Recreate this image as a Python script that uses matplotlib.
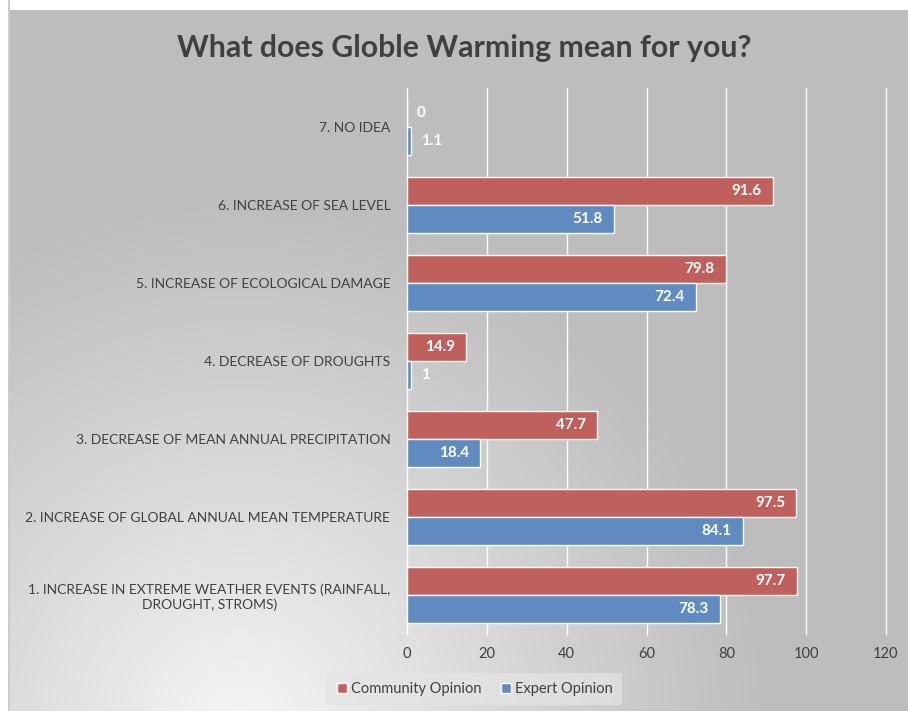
import numpy as np
import matplotlib.pyplot as plt
from matplotlib.lines import Line2D

plt.rcParams['font.family'] = ['Lato', 'DejaVu Sans']

categories = [
    '1. INCREASE IN EXTREME WEATHER EVENTS (RAINFALL,\nDROUGHT, STROMS)',
    '2. INCREASE OF GLOBAL ANNUAL MEAN TEMPERATURE',
    '3. DECREASE OF MEAN ANNUAL PRECIPITATION',
    '4. DECREASE OF DROUGHTS',
    '5. INCREASE OF ECOLOGICAL DAMAGE',
    '6. INCREASE OF SEA LEVEL',
    '7. NO IDEA',
]
community = [97.7, 97.5, 47.7, 14.9, 79.8, 91.6, 0]
expert = [78.3, 84.1, 18.4, 1, 72.4, 51.8, 1.1]
xticks = [0, 20, 40, 60, 80, 100, 120]

RED = '#C0605C'
BLUE = '#5F8BC0'
TXT = '#404040'

fig = plt.figure(figsize=(9.08, 7.11), dpi=100)

# background with radial highlight at lower left
bg = fig.add_axes([0, 0, 1, 1], zorder=-10)
bg.set_axis_off()
W, H = 908, 711
xx, yy = np.meshgrid(np.arange(W), np.arange(H))
r = np.hypot(xx - 240, yy - 730)
t = np.clip(r / 520.0, 0, 1) ** 0.9
light = np.array([0.97, 0.97, 0.97])
gray = np.array([0.745, 0.745, 0.745])
img = light[None, None, :] * (1 - t[..., None]) + gray[None, None, :] * t[..., None]
img[:10, :, :] = 1.0
img[:, :8, :] = 1.0
img[:, 8:10, :] = 0.8
bg.imshow(img, extent=[0, W, H, 0], aspect='auto')
bg.set_xlim(0, W)
bg.set_ylim(H, 0)

ax = fig.add_axes([407 / W, 1 - 634 / H, (886 - 407) / W, (634 - 88) / H])
ax.patch.set_alpha(0)

y = np.arange(len(categories))
h = 0.36
ax.barh(y + h / 2, community, height=h, color=RED, edgecolor='white', linewidth=1, zorder=3)
ax.barh(y - h / 2, expert, height=h, color=BLUE, edgecolor='white', linewidth=1, zorder=3)

for vals, off in [(community, h / 2), (expert, -h / 2)]:
    for yi, v in zip(y, vals):
        if v > 8:
            ax.text(v - 2.8, yi + off, f'{v:g}', ha='right', va='center', color='white',
                    fontsize=11, fontweight='bold', zorder=4)
        else:
            ax.text(v + 2.5, yi + off, f'{v:g}', ha='left', va='center', color='white',
                    fontsize=11, fontweight='bold', zorder=4)

ax.set_xlim(0, 120)
ax.set_ylim(-0.5, len(categories) - 0.5)
ax.set_xticks(xticks)
ax.set_yticks(y)
ax.set_yticklabels(categories, multialignment='center')
ax.tick_params(axis='both', length=0, colors=TXT)
ax.tick_params(axis='y', pad=12, labelsize=10)
ax.tick_params(axis='x', pad=9, labelsize=10.5)
ax.grid(axis='x', color='white', linewidth=1, zorder=0)
for gl in ax.get_xgridlines():
    gl.set_clip_on(False)
ax.set_axisbelow(True)
for s in ax.spines.values():
    s.set_visible(False)

fig.text(464 / W, 1 - 48 / H, 'What does Globle Warming mean for you?', ha='center', va='center',
         fontsize=21.8, fontweight='bold', color=TXT)

handles = [Line2D([], [], marker='s', linestyle='none', markersize=7, markerfacecolor=RED,
                  markeredgecolor='white', label='Community Opinion'),
           Line2D([], [], marker='s', linestyle='none', markersize=7, markerfacecolor=BLUE,
                  markeredgecolor='white', label='Expert Opinion')]
leg = fig.legend(handles=handles, loc='center', bbox_to_anchor=(474 / W, 1 - 689 / H), ncol=2,
                 frameon=True, fontsize=10.5, handletextpad=0.1, columnspacing=1.2,
                 borderpad=0.6, handlelength=1.0)
leg.get_frame().set_facecolor('#E4E4E4')
leg.get_frame().set_edgecolor('none')
leg.get_frame().set_alpha(0.7)
leg.get_frame().set_boxstyle('square', pad=0)
for t_ in leg.get_texts():
    t_.set_color(TXT)

fig.savefig('out.png', dpi=100)
